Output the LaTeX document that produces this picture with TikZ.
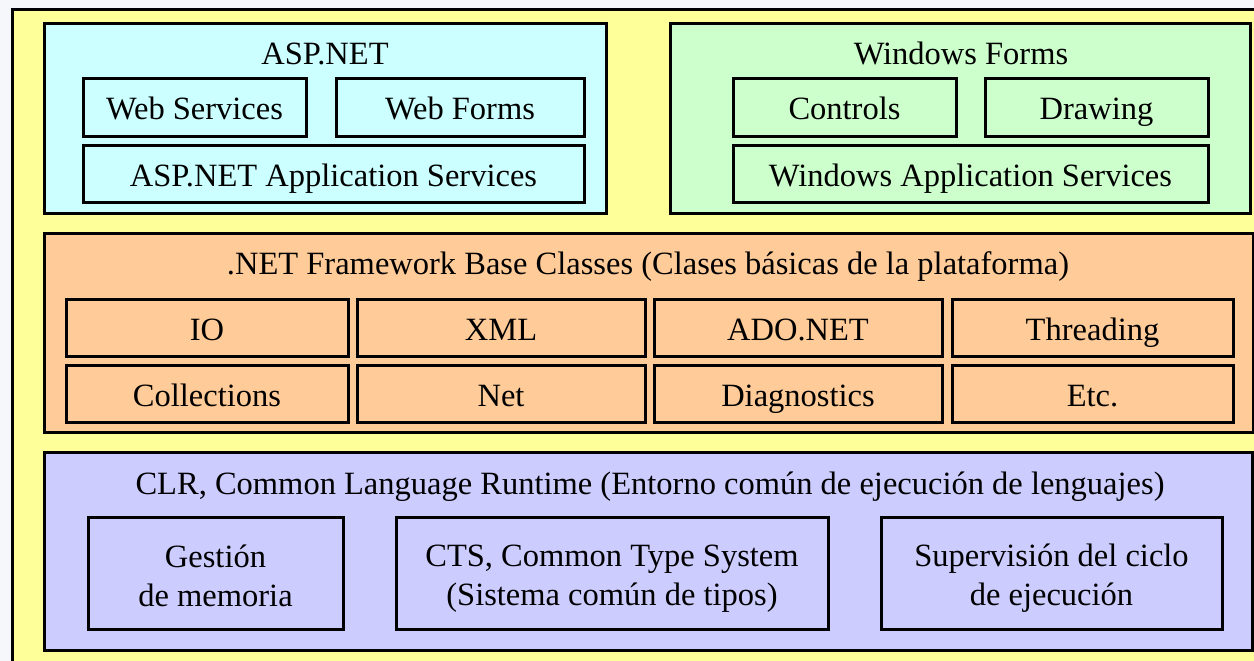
\documentclass[tikz,border=0pt]{standalone}
\usepackage{fontspec}
\setmainfont{Liberation Serif}
\definecolor{bgc}{HTML}{F5F7FA}
\definecolor{frameY}{HTML}{FFFF99}
\definecolor{aspC}{HTML}{CCFFFF}
\definecolor{winG}{HTML}{CCFFCC}
\definecolor{baseO}{HTML}{FFCC99}
\definecolor{clrL}{HTML}{CCCCFF}
\newcommand{\topst}{\rule{0pt}{32pt}}
\newcommand{\botst}{\rule[-5pt]{0pt}{5pt}}
\begin{document}
\begin{tikzpicture}[x=1pt,y=-1pt,
  bx/.style={draw=black, line width=3pt, anchor=north west, inner sep=0pt, outer sep=0pt,
             align=center, font=\fontsize{32.5}{39}\selectfont},
  one/.style={bx, text height=25pt, text depth=0pt, minimum height=57pt},
  two/.style={bx, minimum height=112pt},
  ttl/.style={anchor=base, inner sep=0pt, font=\fontsize{32.5}{39}\selectfont}]
\useasboundingbox (0,0) rectangle (1254,661);
\fill[bgc] (0,0) rectangle (1254,661);
\begin{scope}
\clip (0,0) rectangle (1254,661);
\node[bx, fill=frameY, minimum width=1300pt, minimum height=700pt] (frame) at (12,10) {};
\end{scope}
% ASP.NET
\node[bx, fill=aspC, minimum width=562pt, minimum height=189pt] (asp) at (44,24) {};
\node[ttl] (asptitle) at (325,65) {ASP.NET};
\node[one, fill=aspC, minimum width=223pt] (websvc) at (83,79) {Web Services};
\node[one, fill=aspC, minimum width=248pt] (webforms) at (336,79) {Web Forms};
\node[one, fill=aspC, minimum width=501pt] (aspapp) at (83,145) {ASP.NET Application Services};
% Windows Forms
\node[bx, fill=winG, minimum width=580pt, minimum height=189pt] (win) at (670,24) {};
\node[ttl] (wintitle) at (961,65) {Windows Forms};
\node[one, fill=winG, minimum width=223pt] (controls) at (733,79) {Controls};
\node[one, fill=winG, minimum width=223pt] (drawing) at (985,79) {Drawing};
\node[one, fill=winG, minimum width=475pt] (winapp) at (733,145) {Windows Application Services};
% Base classes
\node[bx, fill=baseO, minimum width=1209pt, minimum height=199pt] (base) at (44,233) {};
\node[ttl] (basetitle) at (648,274) {.NET Framework Base Classes (Clases básicas de la plataforma)};
\node[one, fill=baseO, minimum width=282pt] (io) at (66,299) {IO};
\node[one, fill=baseO, minimum width=288pt] (xml) at (357,299) {XML};
\node[one, fill=baseO, minimum width=288pt] (ado) at (654,299) {ADO.NET};
\node[one, fill=baseO, minimum width=281pt] (thr) at (952,299) {Threading};
\node[one, fill=baseO, minimum width=282pt] (coll) at (66,365) {Collections};
\node[one, fill=baseO, minimum width=288pt] (net) at (357,365) {Net};
\node[one, fill=baseO, minimum width=288pt] (diag) at (654,365) {Diagnostics};
\node[one, fill=baseO, minimum width=281pt] (etc) at (952,365) {Etc.};
% CLR
\node[bx, fill=clrL, minimum width=1208pt, minimum height=198pt] (clr) at (44,452) {};
\node[ttl] (clrtitle) at (650,494) {CLR, Common Language Runtime (Entorno común de ejecución de lenguajes)};
\node[two, fill=clrL, minimum width=255pt] (mem) at (88,517) {\topst Gestión\\de memoria\botst};
\node[two, fill=clrL, minimum width=432pt] (cts) at (396,517) {\topst CTS, Common Type System\\(Sistema común de tipos)\botst};
\node[two, fill=clrL, minimum width=341pt] (sup) at (881,517) {\topst Supervisión del ciclo\\de ejecución\botst};
\end{tikzpicture}
\end{document}
